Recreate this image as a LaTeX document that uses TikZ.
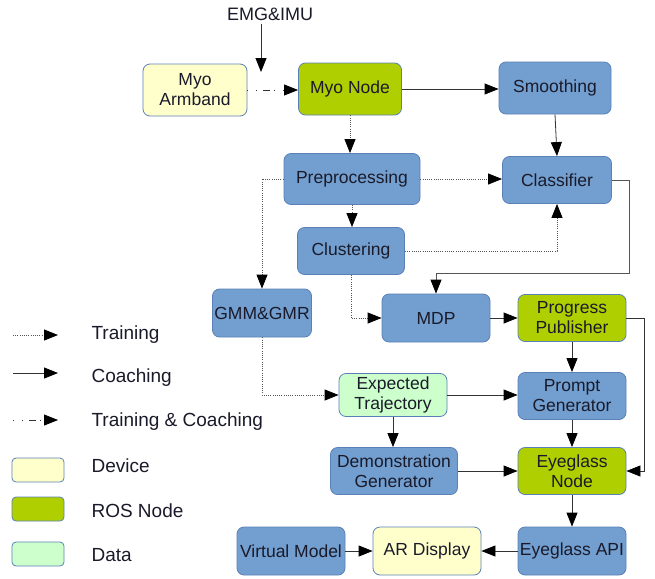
\documentclass[tikz,border=0pt]{standalone}
\usepackage{fontspec}
\setmainfont{Liberation Sans}
\usetikzlibrary{arrows.meta}
\definecolor{boxblue}{HTML}{729FCF}
\definecolor{edgeblue}{HTML}{5B80B8}
\definecolor{devyellow}{HTML}{FFFFCC}
\definecolor{rosgreen}{HTML}{B0CF00}
\definecolor{datgreen}{HTML}{CCFFCC}
\definecolor{textnavy}{HTML}{1A1A2A}
\definecolor{linegray}{HTML}{333333}
\definecolor{dotgray}{HTML}{555555}
\begin{document}
\begin{tikzpicture}[x=1pt,y=-1pt,
  blk/.style={draw=edgeblue, line width=0.8pt, rounded corners=7pt, fill=boxblue, text=textnavy,
    minimum width=108pt, minimum height=48pt, inner sep=1pt, align=center,
    font=\fontsize{17.5}{20}\selectfont},
  dev/.style={blk, fill=devyellow},
  ros/.style={blk, fill=rosgreen},
  dat/.style={blk, fill=datgreen},
  legtxt/.style={anchor=west, text=textnavy, font=\fontsize{19}{22}\selectfont},
  coach/.style={-{Triangle[length=14pt,width=11pt,color=black]}, line width=0.8pt, draw=linegray},
  train/.style={coach, draw=dotgray, dash pattern=on 1pt off 1.2pt},
  both/.style={coach, dash pattern=on 1pt off 8pt on 1pt off 6pt on 7pt off 4pt}]
\useasboundingbox (0,0) rectangle (655,578);

% boxes
\node[dev, minimum width=104pt, minimum height=52pt] (armband) at (195,90) {Myo\\Armband};
\node[ros, minimum width=103pt, minimum height=52pt] (myo) at (350,89) {Myo Node};
\node[blk, minimum width=112pt, minimum height=52pt] (smooth) at (555,88) {Smoothing};
\node[blk, minimum width=136pt, minimum height=51pt] (prep) at (352,179) {Preprocessing};
\node[blk, minimum width=109pt, minimum height=47pt] (clf) at (557,180) {Classifier};
\node[blk, minimum width=107pt, minimum height=47pt] (clust) at (351,251) {Clustering};
\node[blk, minimum width=99pt] (gmm) at (262,313) {GMM\&GMR};
\node[blk] (mdp) at (436,318) {MDP};
\node[ros, minimum height=47pt] (prog) at (572,318) {Progress\\Publisher};
\node[dat, minimum height=43pt] (traj) at (393,395) {Expected\\Trajectory};
\node[blk, minimum height=47pt] (prompt) at (572,396) {Prompt\\Generator};
\node[blk, minimum width=127pt, minimum height=47pt] (demo) at (394,471) {Demonstration\\Generator};
\node[ros, minimum height=47pt] (eyenode) at (572,471) {Eyeglass\\Node};
\node[blk] (vmodel) at (291,551) {Virtual Model};
\node[dev] (ar) at (427,551) {AR Display};
\node[blk] (eyeapi) at (572,551) {Eyeglass API};

% input
\node[text=textnavy, font=\fontsize{18}{20}\selectfont] (emg) at (270,14) {EMG\&IMU};
\coordinate (emgend) at (261,72);
\draw[coach] (emg.south -| emgend) -- (emgend);

% connectors
\draw[both] (armband.east) -- (armband.east -| myo.west);
\draw[coach] (myo.east) -- (myo.east -| smooth.west);
\draw[train] (myo.south) -- (myo.south |- prep.north);
\draw[coach] (smooth.south) -- (clf.north);
\draw[train] (prep.east) -- (prep.east -| clf.west);
\draw[train] (prep.south) -- (prep.south |- clust.north);
\draw[train] (prep.west) -| (gmm.north);
\draw[train] (clust.east) -| (clf.south);
\draw[coach, draw=dotgray] (clf.east) -- ++(17,0) -- ++(0,93) -| (mdp.north);
\draw[train] (clust.south) |- (mdp.west);
\draw[coach] (mdp.east) -- (mdp.east -| prog.west);
\draw[coach] (prog) -- (prompt);
\draw[coach] (prog.east) -- ++(18,0) |- (eyenode.east);
\draw[train] (gmm.south) |- (traj.west);
\draw[coach] (traj.east) -- (traj.east -| prompt.west);
\draw[coach] (traj.south) -- (traj.south |- demo.north);
\draw[coach] (prompt) -- (eyenode);
\draw[coach] (demo.east) -- (demo.east -| eyenode.west);
\draw[coach] (eyenode) -- (eyeapi);
\draw[coach] (eyeapi) -- (ar);
\draw[coach] (vmodel) -- (ar);

% legend
\coordinate (trA) at (13,335);
\coordinate (trB) at (58,335);
\draw[train] (trA) -- (trB);
\node[legtxt] (trlab) at (88,335) {Training};
\coordinate (coA) at (13,373);
\coordinate (coB) at (58,373);
\draw[coach] (coA) -- (coB);
\node[legtxt] (colab) at (88,378) {Coaching};
\coordinate (boA) at (13,420);
\coordinate (boB) at (58,420);
\draw[both] (boA) -- (boB);
\node[legtxt] (bolab) at (88,422) {Training \& Coaching};
\node[dev, minimum width=52pt, minimum height=24pt, rounded corners=4pt] (devkey) at (38,470) {};
\node[legtxt] (devlab) at (88,466) {Device};
\node[ros, minimum width=52pt, minimum height=24pt, rounded corners=4pt] (roskey) at (38,509) {};
\node[legtxt] (roslab) at (88,511) {ROS Node};
\node[dat, minimum width=52pt, minimum height=24pt, rounded corners=4pt] (datkey) at (38,554) {};
\node[legtxt] (datlab) at (88,555) {Data};
\end{tikzpicture}
\end{document}
